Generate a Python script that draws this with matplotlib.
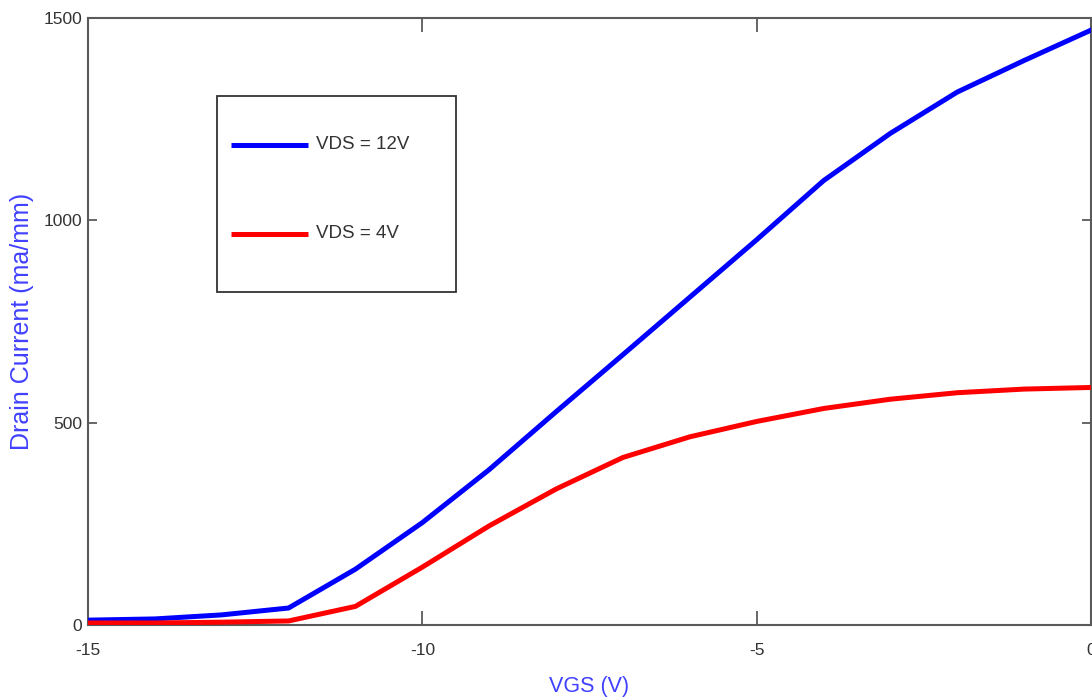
import matplotlib
matplotlib.use("Agg")
import matplotlib.pyplot as plt
from matplotlib.patches import Rectangle

plt.rcParams['font.family'] = ['Liberation Sans', 'DejaVu Sans']
plt.rcParams['axes.unicode_minus'] = False

vgs = [-15, -14, -13, -12, -11, -10, -9, -8, -7, -6, -5, -4, -3, -2, -1, 0]
id_vds12 = [12, 15, 25, 42, 138, 253, 384, 527, 668, 810, 952, 1098, 1215, 1317, 1395, 1470]
id_vds4 = [5, 5, 7, 10, 46, 143, 245, 336, 414, 465, 503, 535, 558, 574, 583, 587]
labels = ["VDS = 12V", "VDS = 4V"]
colors = ["#0000ff", "#ff0000"]

fig = plt.figure(figsize=(10.92, 6.97), dpi=100)
ax = fig.add_axes([88 / 1092, 72 / 697, 1003 / 1092, 607 / 697])

for ys, c in zip([id_vds12, id_vds4], colors):
    ax.plot(vgs, ys, color=c, linewidth=3.6, solid_joinstyle="round", zorder=3)

ax.set_xlim(-15, 0)
ax.set_ylim(0, 1500)
ax.set_xticks([-15, -10, -5, 0])
ax.set_yticks([0, 500, 1000, 1500])

spine_col = "#5a5a5a"
for s in ax.spines.values():
    s.set_color(spine_col)
    s.set_linewidth(1.5)
ax.tick_params(axis="x", direction="in", length=10, width=1.3, color=spine_col,
               top=True, labelsize=12.5, labelcolor="#333333", pad=13)
ax.tick_params(axis="y", direction="in", length=6.5, width=1.3, color=spine_col,
               right=True, labelsize=12.5, labelcolor="#333333", pad=4)

ax.set_xlabel("VGS (V)", color="#4040ff", fontsize=15.5, labelpad=13)
ax.set_ylabel("Drain Current (ma/mm)", color="#4040ff", fontsize=18, labelpad=7)

# legend box drawn by hand to match the original layout
ax.add_patch(Rectangle((0.1286, 0.5486), 0.2383, 0.3229, transform=ax.transAxes,
                       facecolor="white", edgecolor="#333333", linewidth=1.3, zorder=4))
for i, (lab, c) in enumerate(zip(labels, colors)):
    yy = 0.7908 - i * 0.1466
    ax.plot([0.1426, 0.2194], [yy, yy], transform=ax.transAxes, color=c,
            linewidth=3.6, solid_capstyle="butt", zorder=5)
    ax.text(0.2274, yy, lab, transform=ax.transAxes, fontsize=13.5,
            color="#333333", va="center", ha="left", zorder=5)

fig.savefig("out.png", dpi=100)
plt.close(fig)
